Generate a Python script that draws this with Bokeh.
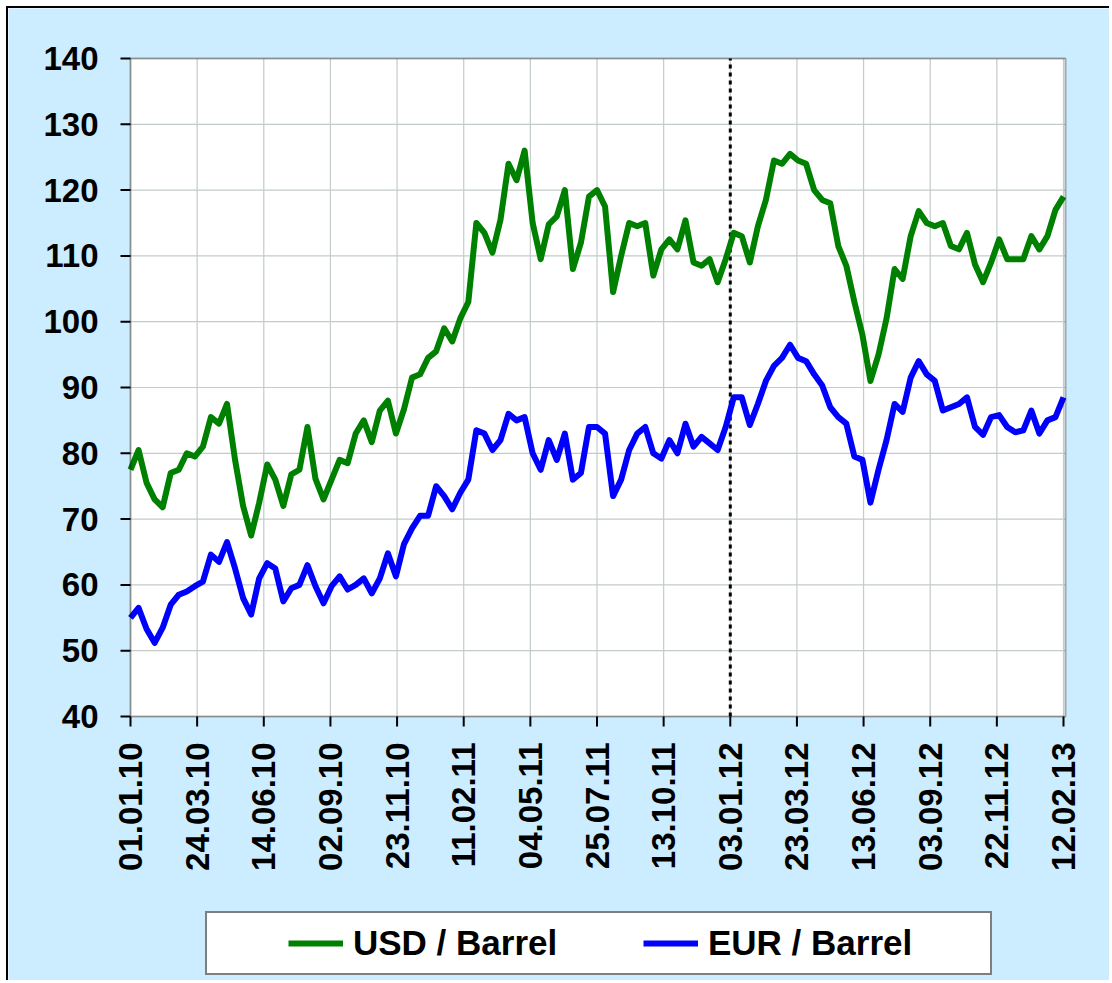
import math
from bokeh.plotting import figure
from bokeh.models import Range1d, Legend, LegendItem, BoxAnnotation, ColumnDataSource
from bokeh.core.properties import value
from bokeh.embed import file_html
from bokeh.resources import INLINE

# Values sampled every 7 trading days (index 0 = 01.01.10, index 812 = 12.02.13)
usd_barrel = [77.5, 80.5, 75.5, 73, 71.8, 77, 77.5, 80, 79.5, 81,
              85.5, 84.5, 87.5, 79, 72, 67.5, 72.5, 78.3, 76, 72,
              76.8, 77.5, 84, 76.1, 73, 76, 79, 78.5, 83, 85,
              81.7, 86.5, 88, 83, 86.7, 91.5, 92, 94.5, 95.5, 99,
              97, 100.5, 103, 115, 113.5, 110.5, 115.5, 124, 121.5, 126,
              115, 109.5, 114.8, 116, 120, 108, 112, 119, 120, 117.5,
              104.5, 110, 115, 114.5, 115, 107, 111, 112.5, 111, 115.4,
              109, 108.5, 109.5, 106, 109.5, 113.5, 113, 109, 114.5, 118.5,
              124.5, 124, 125.5, 124.5, 124, 120, 118.5, 118, 111.5, 108.5,
              103, 98, 91, 95, 100.5, 108, 106.5, 113, 116.8, 115,
              114.5, 115, 111.5, 111, 113.5, 108.7, 106, 109, 112.5, 109.5,
              109.5, 109.5, 113, 111, 113, 117, 119]
eur_barrel = [55, 56.5, 53.3, 51.2, 53.5, 57, 58.5, 59, 59.8, 60.5,
              64.6, 63.5, 66.5, 62.5, 58, 55.5, 61, 63.3, 62.5, 57.5,
              59.5, 60, 63, 59.8, 57.2, 59.8, 61.3, 59.3, 60, 61,
              58.7, 61, 64.8, 61.3, 66.2, 68.6, 70.5, 70.5, 75, 73.5,
              71.5, 74, 76, 83.5, 83, 80.5, 82, 86, 85, 85.5,
              80, 77.5, 82, 79, 83, 76, 77, 84, 84, 83,
              73.5, 76, 80.5, 83, 84, 80, 79.2, 82, 80, 84.5,
              81, 82.5, 81.5, 80.5, 84, 88.5, 88.5, 84.3, 87.5, 91,
              93.3, 94.5, 96.5, 94.5, 94, 92, 90.3, 87, 85.5, 84.5,
              79.5, 79, 72.5, 77.5, 82, 87.5, 86.3, 91.5, 94, 92,
              91, 86.5, 87, 87.5, 88.5, 84, 82.8, 85.5, 85.8, 84,
              83.2, 83.5, 86.5, 83, 85, 85.5, 88.5]
sample_step = 7
tick_step = 58
tick_labels = ["01.01.10", "24.03.10", "14.06.10", "02.09.10", "23.11.10",
               "11.02.11", "04.05.11", "25.07.11", "13.10.11", "03.01.12",
               "23.03.12", "13.06.12", "03.09.12", "22.11.12", "12.02.13"]
marker_label = "03.01.12"
y_ticks = [40, 50, 60, 70, 80, 90, 100, 110, 120, 130, 140]
series_names = ["USD / Barrel", "EUR / Barrel"]
series_colors = ["#008000", "#0000FF"]

x_idx = [i * sample_step for i in range(len(usd_barrel))]
tick_pos = [i * tick_step for i in range(len(tick_labels))]
x_last = tick_pos[-1]
y_lo, y_hi = y_ticks[0], y_ticks[-1]
src = ColumnDataSource(data=dict(x=x_idx, usd=usd_barrel, eur=eur_barrel))

# ---- layout (pixels) ----
FONT = "Liberation Sans"
BG = "#CCECFF"
GRID = "#C3CBCB"
W, H = 1103, 974          # canvas = frame
PAD_L = 122               # canvas left edge to the 01.01.10 line
PLOT_W_PX = 933           # first to last x tick
PLOT_H_PX = 658           # 40 .. 140
TOP_PX = 50               # canvas top to the 140 line
px_x = PLOT_W_PX / x_last            # px per trading day
px_y = PLOT_H_PX / (y_hi - y_lo)     # px per unit
x_start = -PAD_L / px_x
x_end = x_start + W / px_x
y_end = y_hi + TOP_PX / px_y
y_start = y_end - H / px_y
box_right = x_last + 2 / px_x

p = figure(width=W, height=H, output_backend="svg", toolbar_location=None,
           x_axis_location=None, y_axis_location=None,
           x_range=Range1d(x_start, x_end), y_range=Range1d(y_start, y_end),
           min_border=0)
p.styles = {"margin-top": "6px", "margin-left": "6px",
            "border-top": "2px solid black", "border-left": "2px solid black"}
p.border_fill_color = BG
p.background_fill_color = BG
p.outline_line_color = None
p.grid.visible = False

# white plot area
p.add_layout(BoxAnnotation(left=0, right=box_right, bottom=y_lo, top=y_hi,
                           fill_color="white", fill_alpha=1, line_color=None, level="underlay"))

# grid lines
p.segment(x0=tick_pos, y0=[y_lo] * len(tick_pos), x1=tick_pos, y1=[y_hi] * len(tick_pos),
          line_color=GRID, line_width=1.2)
p.segment(x0=[0] * len(y_ticks), y0=y_ticks, x1=[box_right] * len(y_ticks), y1=y_ticks,
          line_color=GRID, line_width=1.2)

# dotted marker line
marker_x = tick_pos[tick_labels.index(marker_label)]
p.segment(x0=[marker_x], y0=[y_lo], x1=[marker_x], y1=[y_hi],
          line_color="black", line_width=3, line_dash="4 4")

# data
r_usd = p.line("x", "usd", source=src, line_color=series_colors[0], line_width=6, line_join="round")
r_eur = p.line("x", "eur", source=src, line_color=series_colors[1], line_width=6, line_join="round")

# plot-area border (axis lines)
p.add_layout(BoxAnnotation(left=0, right=box_right, bottom=y_lo, top=y_hi,
                           fill_alpha=0, line_color="black", line_width=2))

# y axis ticks and labels
tick_x = 10 / px_x
p.segment(x0=[0] * len(y_ticks), y0=y_ticks, x1=[-tick_x] * len(y_ticks), y1=y_ticks,
          line_color="black", line_width=2)
p.text(x=[-32 / px_x] * len(y_ticks), y=y_ticks, text=[str(v) for v in y_ticks],
       text_align="right", text_baseline="middle",
       text_font=value(FONT), text_font_style="bold", text_font_size="33px",
       text_color="black")

# x axis ticks and date labels
tick_len = 10 / px_y
p.segment(x0=tick_pos, y0=[y_lo] * len(tick_pos), x1=tick_pos,
          y1=[y_lo - tick_len] * len(tick_pos), line_color="black", line_width=2)
p.text(x=tick_pos, y=[y_lo - 26 / px_y] * len(tick_pos), text=tick_labels,
       angle=math.pi / 2, text_align="right", text_baseline="middle",
       text_font=value(FONT), text_font_style="bold", text_font_size="33px",
       text_color="black")

# legend (location = its bottom-left corner, from the frame's bottom-left)
leg = Legend(items=[LegendItem(label=series_names[0], renderers=[r_usd]),
                    LegendItem(label=series_names[1], renderers=[r_eur])],
             location=(PAD_L + 75, 7), orientation="horizontal", padding=10, spacing=18, margin=0,
             title="\u00a0", title_location="left", title_standoff=70,
             title_text_font_size="1px",
             glyph_width=55, glyph_height=38, label_height=38, label_width=272,
             label_standoff=10,
             border_line_color="black", border_line_width=2,
             background_fill_color="white", background_fill_alpha=1,
             label_text_font=FONT, label_text_font_style="bold",
             label_text_font_size="35px", label_text_color="black")
p.add_layout(leg, "center")

open("out.html", "w").write(file_html(p, INLINE))
